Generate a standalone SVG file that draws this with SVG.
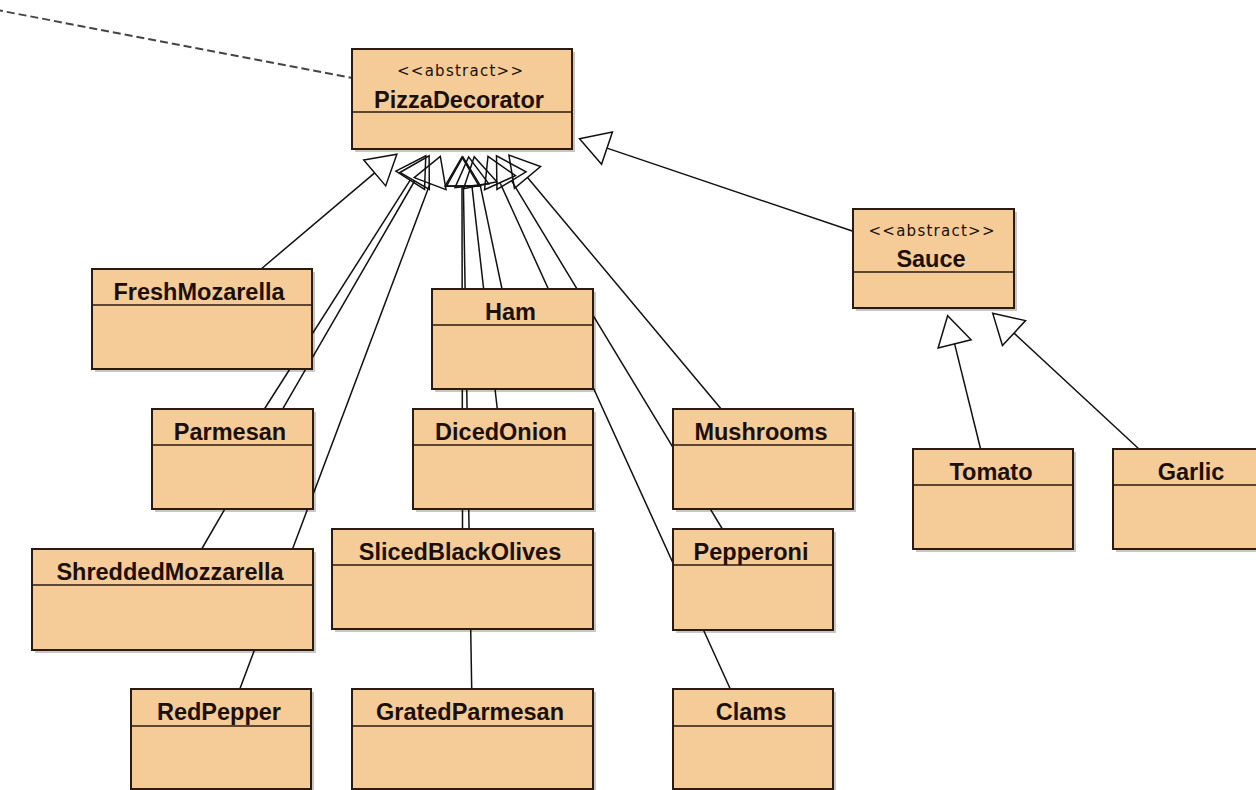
<svg xmlns="http://www.w3.org/2000/svg" width="1256" height="790" viewBox="0 0 1256 790">
<style>
.bg{fill:#ffffff}
.sh{fill:#000;opacity:.22}
.box{fill:#f5cb98;stroke:#2b1b0e;stroke-width:2}
.dv{stroke:#2b1b0e;stroke-width:1.5}
.name{font-family:"Liberation Sans",Arial,sans-serif;font-weight:bold;font-size:23.5px;fill:#1c0f06;text-anchor:middle}
.st{font-family:"DejaVu Sans","Liberation Sans",sans-serif;font-size:15px;fill:#1c0f06;text-anchor:middle}
.gen{stroke:#111;stroke-width:1.5;fill:none;marker-end:url(#tri)}
.dash{stroke:#444;stroke-width:2;stroke-dasharray:8 4;fill:none}
</style>
<defs>
<marker id="tri" markerUnits="userSpaceOnUse" orient="auto" refX="0" refY="0" markerWidth="40" markerHeight="40" overflow="visible">
<path d="M0,-17 L29,0 L0,17 Z" fill="none" stroke="#111" stroke-width="1.5" stroke-linejoin="miter"/>
</marker>
</defs>
<rect class="bg" x="0" y="0" width="1256" height="790"/>
<g id="connectors">
<line class="dash" x1="-5" y1="9.6" x2="352" y2="78"/>
<line class="gen" x1="261.1" y1="269" x2="374.7" y2="172.9"/>
<line class="gen" x1="264.4" y1="409" x2="410.2" y2="180.2"/>
<line class="gen" x1="201.7" y1="549" x2="414.6" y2="181.0"/>
<line class="gen" x1="239.8" y1="689" x2="430.1" y2="183.6"/>
<line class="gen" x1="502.0" y1="289" x2="480.2" y2="185.2"/>
<line class="gen" x1="497.3" y1="409" x2="471.9" y2="185.7"/>
<line class="gen" x1="462.5" y1="529" x2="462.0" y2="186"/>
<line class="gen" x1="471.7" y1="689" x2="463.4" y2="186"/>
<line class="gen" x1="721.2" y1="409" x2="527.5" y2="177.4"/>
<line class="gen" x1="722.4" y1="529" x2="511.5" y2="180.7"/>
<line class="gen" x1="730.3" y1="689" x2="500.0" y2="182.7"/>
<line class="gen" x1="853" y1="231.3" x2="607.0" y2="148.1"/>
<line class="gen" x1="980.6" y1="449" x2="954.6" y2="343.9"/>
<line class="gen" x1="1139.0" y1="449" x2="1014.0" y2="333.1"/>
</g>
<g id="PizzaDecorator">
<rect class="sh" x="355" y="52" width="220" height="100"/>
<rect class="box" x="352" y="49" width="220" height="100"/>
<line class="dv" x1="352" y1="112" x2="572" y2="112"/>
<text class="st" x="460" y="76" textLength="126" lengthAdjust="spacing">&lt;&lt;abstract&gt;&gt;</text>
<text class="name" x="459" y="108">PizzaDecorator</text>
</g>
<g id="Sauce">
<rect class="sh" x="856" y="212" width="161" height="99"/>
<rect class="box" x="853" y="209" width="161" height="99"/>
<line class="dv" x1="853" y1="272" x2="1014" y2="272"/>
<text class="st" x="931.5" y="236" textLength="126" lengthAdjust="spacing">&lt;&lt;abstract&gt;&gt;</text>
<text class="name" x="931" y="267">Sauce</text>
</g>
<g id="FreshMozarella">
<rect class="sh" x="95" y="272" width="220" height="100"/>
<rect class="box" x="92" y="269" width="220" height="100"/>
<line class="dv" x1="92" y1="305" x2="312" y2="305"/>
<text class="name" x="199" y="300">FreshMozarella</text>
</g>
<g id="Ham">
<rect class="sh" x="435" y="292" width="161" height="100"/>
<rect class="box" x="432" y="289" width="161" height="100"/>
<line class="dv" x1="432" y1="325" x2="593" y2="325"/>
<text class="name" x="510.5" y="320">Ham</text>
</g>
<g id="Parmesan">
<rect class="sh" x="155" y="412" width="161" height="100"/>
<rect class="box" x="152" y="409" width="161" height="100"/>
<line class="dv" x1="152" y1="445" x2="313" y2="445"/>
<text class="name" x="230" y="440">Parmesan</text>
</g>
<g id="DicedOnion">
<rect class="sh" x="416" y="412" width="180" height="100"/>
<rect class="box" x="413" y="409" width="180" height="100"/>
<line class="dv" x1="413" y1="445" x2="593" y2="445"/>
<text class="name" x="501" y="440">DicedOnion</text>
</g>
<g id="Mushrooms">
<rect class="sh" x="676" y="412" width="180" height="100"/>
<rect class="box" x="673" y="409" width="180" height="100"/>
<line class="dv" x1="673" y1="445" x2="853" y2="445"/>
<text class="name" x="761" y="440">Mushrooms</text>
</g>
<g id="Tomato">
<rect class="sh" x="916" y="452" width="160" height="100"/>
<rect class="box" x="913" y="449" width="160" height="100"/>
<line class="dv" x1="913" y1="485" x2="1073" y2="485"/>
<text class="name" x="991" y="480">Tomato</text>
</g>
<g id="Garlic">
<rect class="sh" x="1116" y="452" width="160" height="100"/>
<rect class="box" x="1113" y="449" width="160" height="100"/>
<line class="dv" x1="1113" y1="485" x2="1273" y2="485"/>
<text class="name" x="1191" y="480">Garlic</text>
</g>
<g id="ShreddedMozzarella">
<rect class="sh" x="35" y="552" width="281" height="101"/>
<rect class="box" x="32" y="549" width="281" height="101"/>
<line class="dv" x1="32" y1="585" x2="313" y2="585"/>
<text class="name" x="170" y="580">ShreddedMozzarella</text>
</g>
<g id="SlicedBlackOlives">
<rect class="sh" x="335" y="532" width="261" height="100"/>
<rect class="box" x="332" y="529" width="261" height="100"/>
<line class="dv" x1="332" y1="565" x2="593" y2="565"/>
<text class="name" x="460" y="560">SlicedBlackOlives</text>
</g>
<g id="Pepperoni">
<rect class="sh" x="676" y="532" width="160" height="101"/>
<rect class="box" x="673" y="529" width="160" height="101"/>
<line class="dv" x1="673" y1="565" x2="833" y2="565"/>
<text class="name" x="751" y="560">Pepperoni</text>
</g>
<g id="RedPepper">
<rect class="sh" x="134" y="692" width="180" height="100"/>
<rect class="box" x="131" y="689" width="180" height="100"/>
<line class="dv" x1="131" y1="726" x2="311" y2="726"/>
<text class="name" x="219" y="720">RedPepper</text>
</g>
<g id="GratedParmesan">
<rect class="sh" x="355" y="692" width="241" height="100"/>
<rect class="box" x="352" y="689" width="241" height="100"/>
<line class="dv" x1="352" y1="726" x2="593" y2="726"/>
<text class="name" x="470" y="720">GratedParmesan</text>
</g>
<g id="Clams">
<rect class="sh" x="676" y="692" width="160" height="100"/>
<rect class="box" x="673" y="689" width="160" height="100"/>
<line class="dv" x1="673" y1="726" x2="833" y2="726"/>
<text class="name" x="751" y="720">Clams</text>
</g>
</svg>
